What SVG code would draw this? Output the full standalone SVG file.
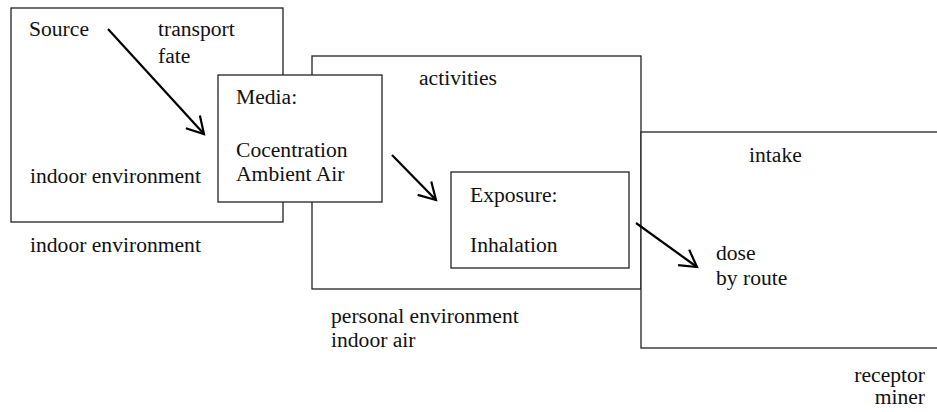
<svg xmlns="http://www.w3.org/2000/svg" width="937" height="412" viewBox="0 0 937 412">
<style>
.box{fill:#fff;stroke:#222;stroke-width:1.3}
.t{font-size:21.6px;fill:#111}
.arr{fill:none;stroke:#000;stroke-width:2.2;marker-end:url(#head)}
</style>
<defs>
<marker id="head" markerUnits="userSpaceOnUse" markerWidth="22" markerHeight="24" viewBox="-19 -12 22 24" refX="0" refY="0" orient="auto" overflow="visible">
<path d="M-16.5,-9.5 L0,0 L-16.5,9.5" fill="none" stroke="#000" stroke-width="2.2"/>
</marker>
</defs>
<rect width="937" height="412" fill="#fff"/>
<g font-family="'Liberation Serif', 'DejaVu Serif', serif">
<g id="indoor-environment">
<rect class="box" x="11" y="8" width="272" height="214"/>
<text class="t" x="29" y="36">Source</text>
<text class="t" x="158" y="36">transport</text>
<text class="t" x="158" y="63">fate</text>
<text class="t" x="30" y="183">indoor environment</text>
<text class="t" x="30" y="252">indoor environment</text>
</g>
<g id="personal-environment">
<rect class="box" x="312" y="56" width="329" height="233"/>
<text class="t" x="419" y="85">activities</text>
<text class="t" x="331" y="323">personal environment</text>
<text class="t" x="331" y="347">indoor air</text>
</g>
<g id="receptor">
<rect class="box" x="641" y="132" width="310" height="216"/>
<text class="t" x="749" y="162">intake</text>
<text class="t" x="716" y="260">dose</text>
<text class="t" x="716" y="285">by route</text>
<text class="t" x="925" y="382" text-anchor="end">receptor</text>
<text class="t" x="925" y="404" text-anchor="end">miner</text>
</g>
<g id="media">
<rect class="box" x="218" y="75" width="164" height="127"/>
<text class="t" x="236" y="104">Media:</text>
<text class="t" x="236" y="157">Cocentration</text>
<text class="t" x="236" y="181">Ambient Air</text>
</g>
<g id="exposure">
<rect class="box" x="451" y="172" width="178" height="96"/>
<text class="t" x="470" y="202">Exposure:</text>
<text class="t" x="470" y="252">Inhalation</text>
</g>
</g>
<g id="connectors">
<path class="arr" d="M108,29 L204,134"/>
<path class="arr" d="M392,155 L436,200"/>
<path class="arr" d="M636,223 L697,267"/>
</g>
</svg>
